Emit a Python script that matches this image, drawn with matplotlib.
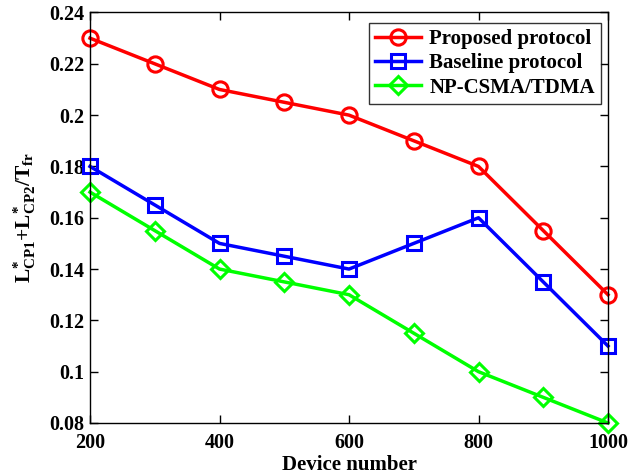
import matplotlib
matplotlib.use("Agg")
import matplotlib.pyplot as plt

devices = [200, 300, 400, 500, 600, 700, 800, 900, 1000]
proposed = [0.23, 0.22, 0.21, 0.205, 0.20, 0.19, 0.18, 0.155, 0.13]
baseline = [0.18, 0.165, 0.15, 0.145, 0.14, 0.15, 0.16, 0.135, 0.11]
np_csma = [0.17, 0.155, 0.14, 0.135, 0.13, 0.115, 0.10, 0.09, 0.08]

xticks = [200, 400, 600, 800, 1000]
yticks = [0.08, 0.1, 0.12, 0.14, 0.16, 0.18, 0.2, 0.22, 0.24]
ytick_labels = ['0.08', '0.1', '0.12', '0.14', '0.16', '0.18', '0.2', '0.22', '0.24']

plt.rcParams['font.family'] = ['Liberation Serif', 'DejaVu Serif']
plt.rcParams['font.weight'] = 'bold'
plt.rcParams['mathtext.fontset'] = 'custom'
plt.rcParams['mathtext.rm'] = 'Liberation Serif:bold'
plt.rcParams['mathtext.it'] = 'Liberation Serif:bold'
plt.rcParams['mathtext.bf'] = 'Liberation Serif:bold'

W, H = 641, 476
fig = plt.figure(figsize=(W / 100, H / 100), dpi=100)
left, right, top, bottom = 90, 608, 12.5, 423
ax = fig.add_axes([left / W, 1 - bottom / H, (right - left) / W, (bottom - top) / H])

style = dict(linewidth=2.5, markersize=11, markerfacecolor='none', markeredgewidth=2.2, clip_on=False)
ax.plot(devices, proposed, color='#ff0000', marker='o', label='Proposed protocol', **style)
ax.plot(devices, baseline, color='#0000ff', marker='s', label='Baseline protocol', **dict(style, markersize=10))
ax.plot(devices, np_csma, color='#00ff00', marker='D', label='NP-CSMA/TDMA', **dict(style, markersize=9.5))

ax.set_xlim(200, 1000)
ax.set_ylim(0.08, 0.24)
ax.set_xticks(xticks)
ax.set_yticks(yticks)
ax.set_yticklabels(ytick_labels)
ax.tick_params(direction='in', top=True, right=True, labelsize=14.5, length=6, width=1, pad=4)
ax.tick_params(axis='x', pad=7)
for lab in ax.get_xticklabels() + ax.get_yticklabels():
    lab.set_fontweight('bold')
for sp in ax.spines.values():
    sp.set_linewidth(1)

ax.set_xlabel('Device number', fontsize=15, fontweight='bold', labelpad=2)
ax.set_ylabel(r'$\mathrm{L^{*}_{CP1}{+}L^{*}_{CP2}/T_{fr}}$', fontsize=15.5, labelpad=8)

leg = ax.legend(loc='upper right', bbox_to_anchor=(601 / W, 1 - 23 / H),
                bbox_transform=fig.transFigure, fontsize=15, frameon=True, fancybox=False,
                edgecolor='black', borderpad=0.3, labelspacing=0.2, handlelength=2.2,
                handletextpad=0.4, borderaxespad=0)
leg.get_frame().set_linewidth(1)
for t in leg.get_texts():
    t.set_fontweight('bold')

fig.savefig('out.png', dpi=100)
